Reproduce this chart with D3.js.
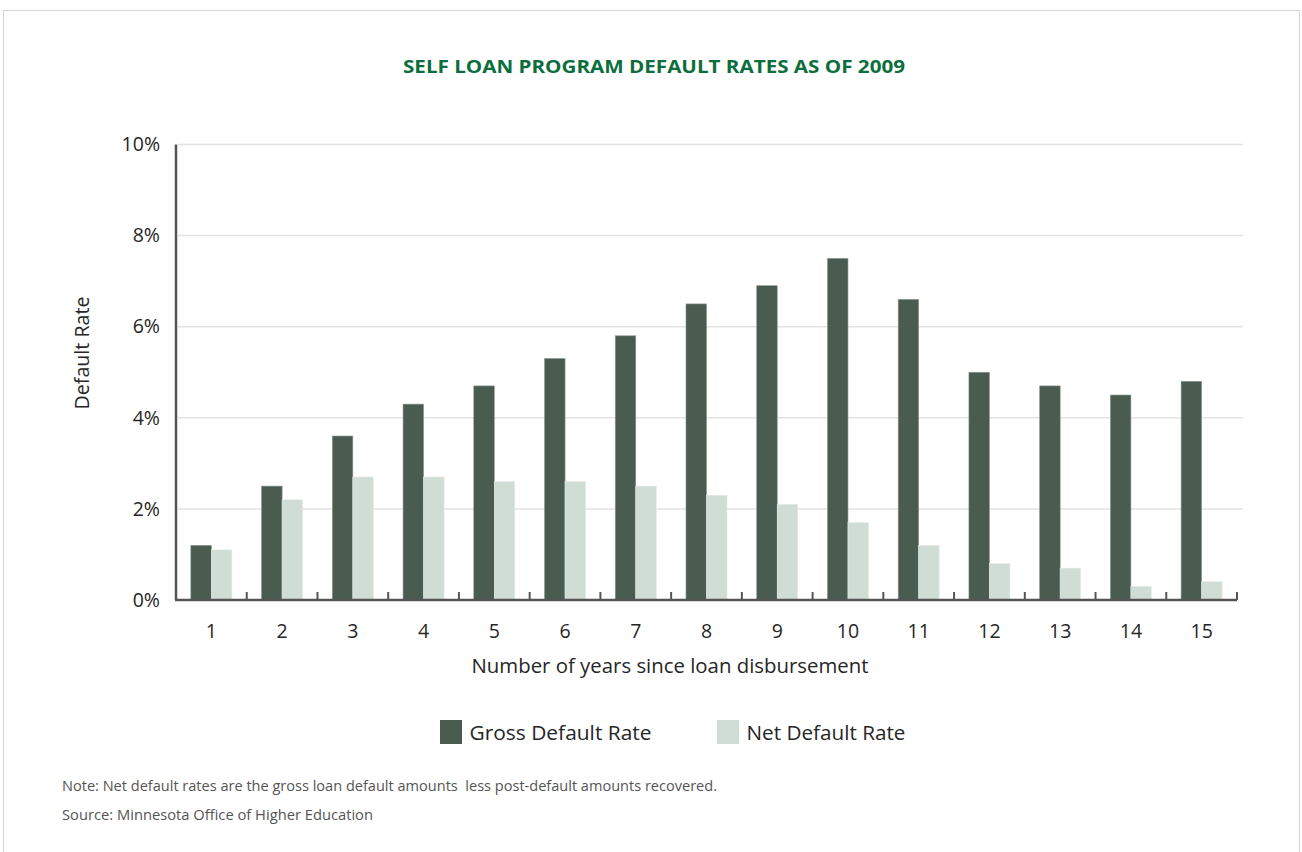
<!DOCTYPE html>
<html>
<head>
<meta charset="utf-8">
<script src="https://cdn.jsdelivr.net/npm/d3@7"></script>
<style>
  html, body { margin: 0; padding: 0; background: #fff; }
  svg { display: block; }
  text { font-family: "Open Sans", "Noto Sans", sans-serif; }
</style>
</head>
<body>
<svg id="chart" width="1302" height="852"></svg>
<script>
const categories = ["1","2","3","4","5","6","7","8","9","10","11","12","13","14","15"];
const seriesNames = ["Gross Default Rate", "Net Default Rate"];
const grossRate = [1.2, 2.5, 3.6, 4.3, 4.7, 5.3, 5.8, 6.5, 6.9, 7.5, 6.6, 5.0, 4.7, 4.5, 4.8];
const netRate   = [1.1, 2.2, 2.7, 2.7, 2.6, 2.6, 2.5, 2.3, 2.1, 1.7, 1.2, 0.8, 0.7, 0.3, 0.4];
const yTicks = [0, 2, 4, 6, 8, 10];
const colors = ["#4a5b50", "#d0ddd5"];

const svg = d3.select("#chart");

// frame
svg.append("rect").attr("x", 3.5).attr("y", 10.5).attr("width", 1296).attr("height", 850)
  .attr("fill", "#fff").attr("stroke", "#d6d6d6").attr("stroke-width", 1);

const x0 = 176, x1 = 1237, yTop = 144.5, yBot = 600;

const x = d3.scaleBand().domain(categories).range([x0, x1]).paddingInner(0.42).paddingOuter(0.21);
const xs = d3.scaleBand().domain(seriesNames).range([0, x.bandwidth()]);
const y = d3.scaleLinear().domain([0, 10]).range([yBot, yTop]);

// gridlines
svg.append("g").selectAll("line").data(yTicks.filter(d => d > 0)).join("line")
  .attr("x1", x0 + 2).attr("x2", 1243)
  .attr("y1", d => y(d)).attr("y2", d => y(d))
  .attr("stroke", "#e3e3e3").attr("stroke-width", 1.5);

// bars
const data = categories.map((c, i) => ({ c, vals: [grossRate[i], netRate[i]] }));
const groups = svg.append("g").selectAll("g").data(data).join("g")
  .attr("transform", d => `translate(${x(d.c)},0)`);
groups.selectAll("rect").data(d => d.vals.map((v, j) => ({ v, s: seriesNames[j], j }))).join("rect")
  .attr("x", d => xs(d.s))
  .attr("width", xs.bandwidth())
  .attr("y", d => y(d.v))
  .attr("height", d => y(0) - y(d.v))
  .attr("fill", d => colors[d.j])
  .attr("stroke", d => d.j === 0 ? "#8a968e" : "#e4ebe6")
  .attr("stroke-width", 0.6);

const textColor = "#262626";

// y axis
const yAxis = d3.axisLeft(y).tickValues(yTicks).tickSize(0).tickPadding(16).tickFormat(d => d + "%");
const gy = svg.append("g").attr("transform", `translate(${x0},0)`).call(yAxis);
gy.select(".domain").attr("stroke", "#555").attr("stroke-width", 2.5).attr("d", `M0,${yTop}V${yBot}`);
gy.selectAll("text").attr("font-size", 19.5).attr("fill", textColor).attr("font-weight", 400).attr("font-family", "'Open Sans', sans-serif");

// x axis
const xAxis = d3.axisBottom(x).tickSize(0).tickPadding(24);
const gx = svg.append("g").attr("transform", `translate(0,${yBot})`).call(xAxis);
gx.select(".domain").attr("stroke", "#555").attr("stroke-width", 2.5).attr("d", `M${x0 - 1},0H${x1}`);
gx.selectAll("text").attr("font-size", 19.5).attr("fill", textColor).attr("font-weight", 400).attr("font-family", "'Open Sans', sans-serif");

// boundary ticks
const step = x.step();
const bounds = d3.range(1, categories.length + 1).map(i => x0 + i * step);
svg.append("g").selectAll("line").data(bounds).join("line")
  .attr("x1", d => d).attr("x2", d => d)
  .attr("y1", yBot).attr("y2", yBot - 8)
  .attr("stroke", "#555").attr("stroke-width", 2);

// title
svg.append("text").attr("x", 654).attr("y", 73).attr("text-anchor", "middle")
  .attr("font-size", 18.5).attr("font-weight", 700).attr("fill", "#0b6e3c")
  .attr("textLength", 502).attr("lengthAdjust", "spacingAndGlyphs")
  .text("SELF LOAN PROGRAM DEFAULT RATES AS OF 2009");

// axis titles
svg.append("text").attr("x", 670).attr("y", 673).attr("text-anchor", "middle")
  .attr("font-size", 20.5).attr("font-weight", 400).attr("fill", textColor)
  .attr("textLength", 397).attr("lengthAdjust", "spacingAndGlyphs")
  .text("Number of years since loan disbursement");
svg.append("text").attr("transform", "translate(89,353) rotate(-90)").attr("text-anchor", "middle")
  .attr("font-size", 20).attr("font-weight", 400).attr("fill", textColor)
  .attr("textLength", 113).attr("lengthAdjust", "spacingAndGlyphs")
  .text("Default Rate");

// legend
const legendX = [440, 717];
const legendLen = [182, 159];
const lg = svg.append("g").selectAll("g").data(seriesNames).join("g")
  .attr("transform", (d, i) => `translate(${legendX[i]},720)`);
lg.append("rect").attr("width", 22).attr("height", 24).attr("fill", (d, i) => colors[i]);
lg.append("text").attr("x", 29.5).attr("y", 19.5).attr("font-size", 20.5).attr("font-weight", 400)
  .attr("fill", textColor)
  .attr("textLength", (d, i) => legendLen[i]).attr("lengthAdjust", "spacingAndGlyphs")
  .text(d => d);

// notes
svg.append("text").attr("x", 62).attr("y", 791).attr("font-size", 14.5).attr("font-weight", 400)
  .attr("fill", "#555").attr("textLength", 655).attr("lengthAdjust", "spacingAndGlyphs")
  .style("white-space", "pre")
  .text("Note: Net default rates are the gross loan default amounts  less post-default amounts recovered.");
svg.append("text").attr("x", 62).attr("y", 820).attr("font-size", 14.5).attr("font-weight", 400)
  .attr("fill", "#555").attr("textLength", 311).attr("lengthAdjust", "spacingAndGlyphs")
  .text("Source: Minnesota Office of Higher Education");
</script>
</body>
</html>
